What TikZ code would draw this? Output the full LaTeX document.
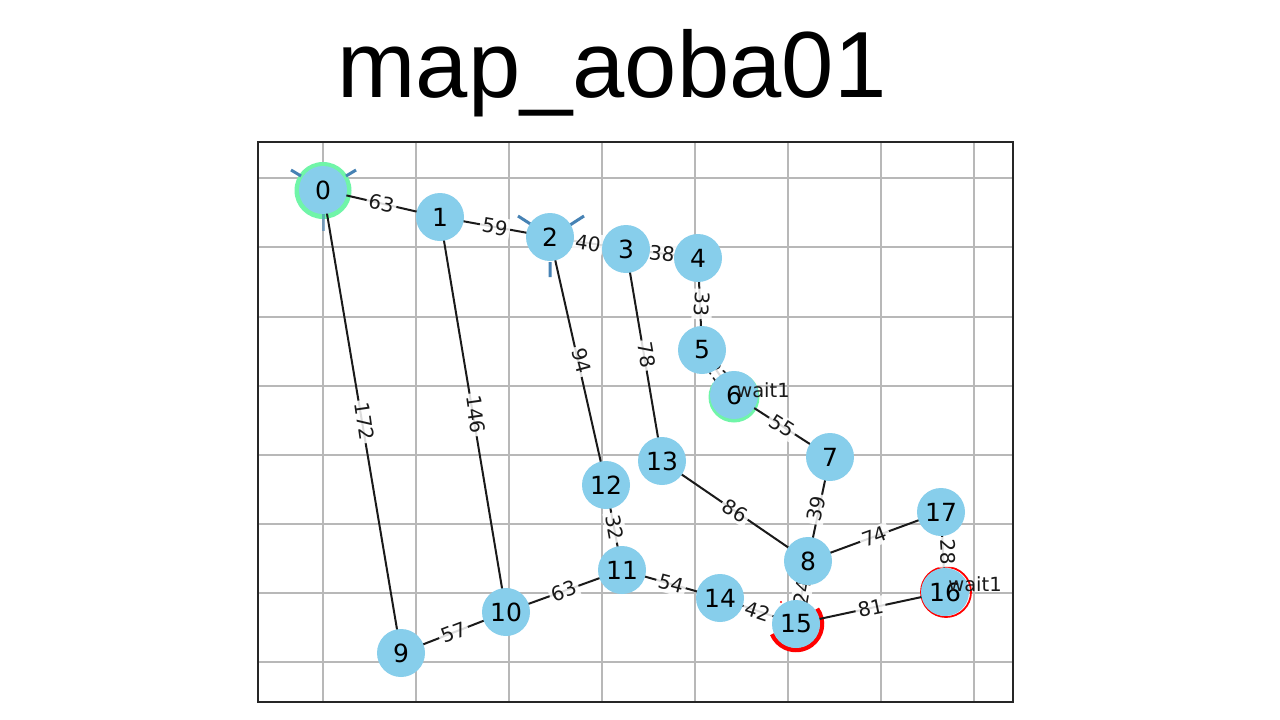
\documentclass[tikz,border=0pt]{standalone}
\usepackage{fontspec}
\setmainfont{DejaVu Sans}
\newfontfamily\titlefont{Liberation Sans}
\definecolor{nodeblue}{HTML}{87CEEB}
\definecolor{gridgray}{HTML}{B8B8B8}
\definecolor{tick}{HTML}{4682B4}
\definecolor{ink}{HTML}{1A1A1A}
\definecolor{halo}{HTML}{70F5A8}
\pgfdeclarelayer{base}
\pgfdeclarelayer{edges}
\pgfsetlayers{base,edges,main}
\tikzset{
  gridline/.style={draw=gridgray,line width=1.6pt},
  frameline/.style={draw=black!85,line width=1.4pt},
  vertex/.style={circle,fill=nodeblue,minimum size=48pt,inner sep=0pt,font=\fontsize{25}{25}\selectfont,text=black},
  link/.style={draw=ink,line width=2pt},
  elabel/.style={fill=white,fill opacity=0.85,text opacity=1,inner sep=2.5pt,font=\fontsize{20}{20}\selectfont,text=ink},
  ticks/.style={draw=tick,line width=3pt},
  waitlabel/.style={font=\fontsize{19.5}{20}\selectfont,text=ink,inner sep=0pt}
}
\begin{document}
\begin{tikzpicture}[x=1pt,y=-1pt]
\useasboundingbox (0,0) rectangle (1280,720);
\begin{pgfonlayer}{base}
\fill[white] (0,0) rectangle (1280,720);
\foreach \x in {323,416,509,602,695,788,881,974} \draw[gridline] (\x,142) -- (\x,702);
\foreach \y in {178,247,317,386,455,524,593,662} \draw[gridline] (258,\y) -- (1013,\y);
\draw[frameline] (258,142) rectangle (1013,702);
\fill[halo] (323,190.5) circle (28.5);
\fill[halo] (734,397) circle (25.5);
\draw[red,line width=1.8pt] (946,592) circle (25);
\draw[red,line width=4.5pt] (796,624) ++(-36:26) arc[start angle=-36,end angle=157,radius=26];
\fill[red] (781,602) circle (1.2);
\draw[ticks] (291,170) -- (301,176) (356,170) -- (346,176);
\draw[ticks,draw opacity=0.6] (323,212) -- (323,231);
\draw[ticks] (518,216) -- (532,225) (584,216) -- (570,225) (550,262) -- (550,277);
\end{pgfonlayer}
\node[font=\titlefont\fontsize{94}{94}\selectfont,text=black,inner sep=0pt] (title) at (612,73) {map\_aoba01};
\node[vertex] (n0) at (323,190) {0};
\node[vertex] (n1) at (440,217) {1};
\node[vertex] (n2) at (550,237) {2};
\node[vertex] (n3) at (626,249) {3};
\node[vertex] (n4) at (698,258) {4};
\node[vertex] (n5) at (702,350) {5};
\node[vertex] (n6) at (734,395) {6};
\node[vertex] (n7) at (830,457) {7};
\node[vertex] (n8) at (808,561) {8};
\node[vertex] (n9) at (401,653) {9};
\node[vertex] (n10) at (506,612) {10};
\node[vertex] (n11) at (622,570) {11};
\node[vertex] (n12) at (606,485) {12};
\node[vertex] (n13) at (662,461) {13};
\node[vertex] (n14) at (720,598) {14};
\node[vertex] (n15) at (796,624) {15};
\node[vertex] (n16) at (945,592) {16};
\node[vertex] (n17) at (941,512) {17};
\begin{pgfonlayer}{edges}
\foreach \a/\b/\l/\r/\s in {n0/n1/63/-13/0,n1/n2/59/-10/0,n2/n3/40/-9/0,n3/n4/38/-7/0,n4/n5/33/-92/2,n5/n6/21/-55/0,n6/n7/55/-33/0,n7/n8/39/78/-3,n8/n13/86/-30/0,n8/n17/74/20/0,n16/n17/28/-87/5,n15/n16/81/12/0,n14/n15/42/-18/0,n11/n14/54/-15/0,n10/n11/63/20/0,n9/n10/57/21/0,n0/n9/172/-82/3,n1/n10/146/-82/3,n11/n12/32/-80/1,n2/n12/94/-75/4,n3/n13/78/-80/3,n8/n15/24/80/0}
  \draw[link] (\a.center) -- node[elabel,xshift=\s pt,rotate=\r] {\l} (\b.center);
\end{pgfonlayer}
\node[waitlabel] (w6) at (763,390) {wait1};
\node[waitlabel] (w16) at (975,584) {wait1};
\end{tikzpicture}
\end{document}
